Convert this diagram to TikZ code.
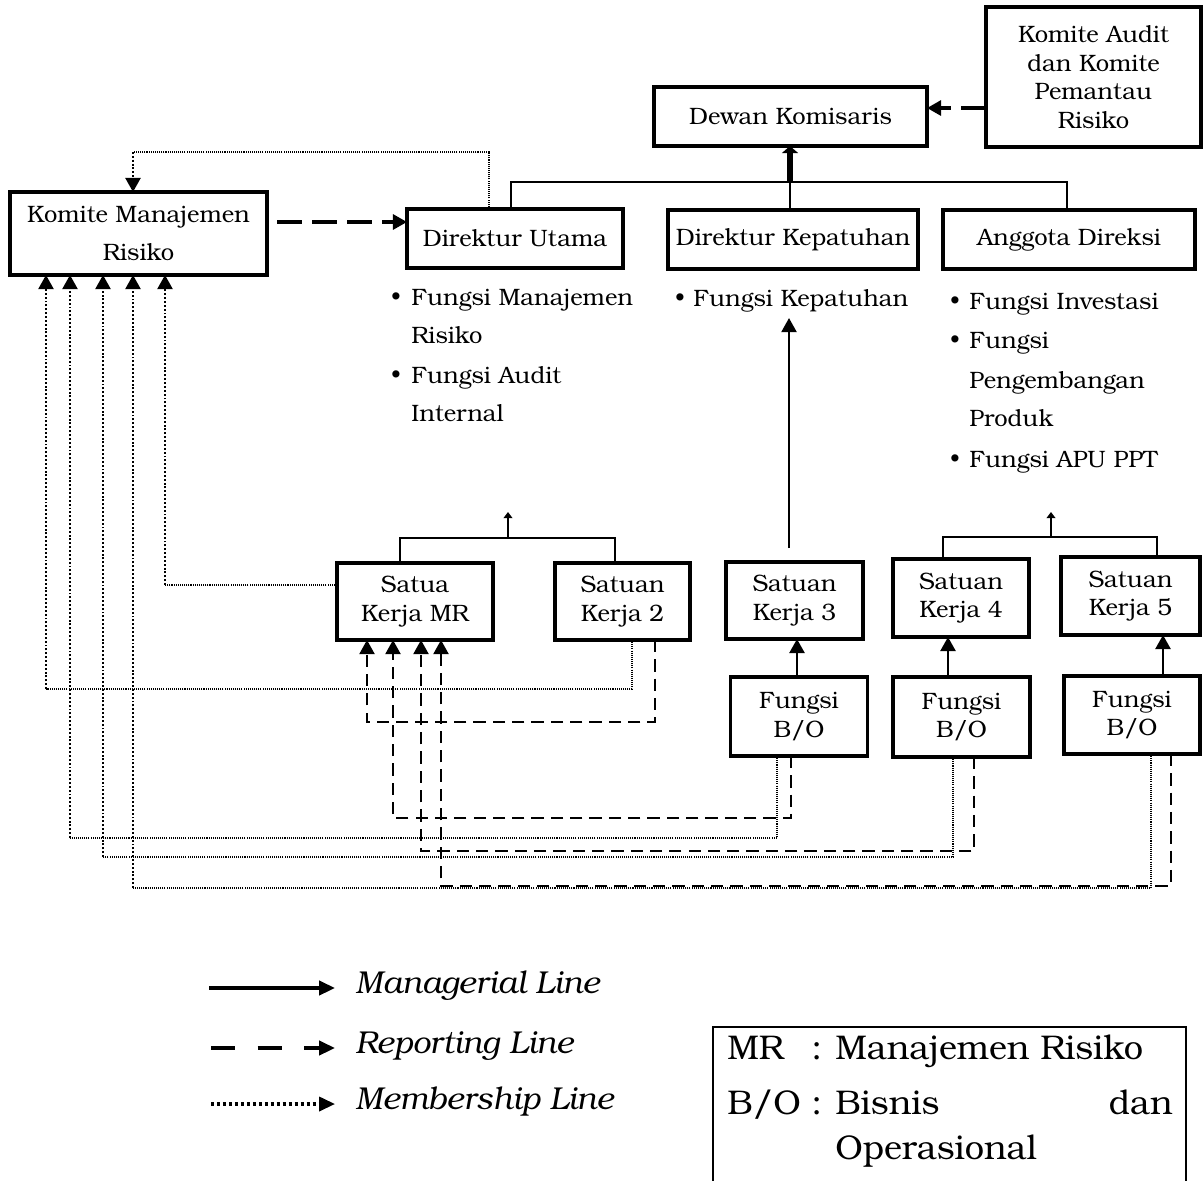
\documentclass[tikz,border=0pt]{standalone}
\usepackage{fontspec}
\setmainfont{TeX Gyre Bonum}
\usetikzlibrary{arrows.meta,calc}
\begin{document}
\begin{tikzpicture}[x=0.02cm,y=-0.02cm,
  font=\fontsize{13.5}{16.3}\selectfont,
  box/.style n args={2}{draw, line width=2.2pt, minimum width=#1*0.02cm, minimum height=#2*0.02cm, inner sep=0pt, outer sep=0pt, align=center},
  tri/.style={-{Triangle[width=8.5pt,length=8pt]}},
  mgr/.style={line width=1.5pt, tri},
  rep/.style={line width=1.3pt, dash pattern=on 7pt off 4pt},
  repthick/.style={line width=1.8pt, dash pattern=on 14pt off 6pt},
  memb/.style={line width=0.6pt, dash pattern=on 0.6pt off 0.6pt},
  membthick/.style={line width=1.4pt, dash pattern=on 1.1pt off 1.1pt},
  tree/.style={line width=0.8pt},
  smallup/.style={line width=1.6pt, -{Triangle[width=5pt,length=3.5pt]}},
  txt/.style={anchor=base west, inner sep=0pt},
  bul/.style={anchor=base, inner sep=0pt, font=\fontsize{12}{14}\selectfont},
  leg/.style={anchor=west, inner sep=0pt, font=\fontsize{18}{21}\selectfont\itshape},
  legb/.style={anchor=base west, inner sep=0pt, font=\fontsize{19.5}{23}\selectfont},
]
\useasboundingbox (0,0) rectangle (1203,1180);

% ---------- boxes ----------
\node[box={257}{83}] (KMR) at (138.5,233.5) {Komite Manajemen\\[5.7pt]Risiko};
\node[box={216}{59}] (DU) at (515,238.5) {\raisebox{-3pt}{Direktur Utama}};
\node[box={273}{59}] (DW) at (790.5,116.5) {Dewan Komisaris};
\node[box={215}{140}] (KA) at (1093.5,77) {Komite Audit\\dan Komite\\Pemantau\\Risiko};
\node[box={250}{59}] (DK) at (793,239.5) {\raisebox{-3pt}{Direktur Kepatuhan}};
\node[box={252}{59}] (AD) at (1069,239.5) {\raisebox{-2pt}{Anggota Direksi}};
\node[box={156}{77}] (SKMR) at (415,601.5) {Satua\\Kerja MR};
\node[box={135}{77}] (SK2) at (622.5,601.5) {Satuan\\Kerja 2};
\node[box={137}{77}] (SK3) at (794.5,600.5) {Satuan\\Kerja 3};
\node[box={136}{78}] (SK4) at (961,598) {Satuan\\Kerja 4};
\node[box={139}{78}] (SK5) at (1130.5,596) {Satuan\\Kerja 5};
\node[box={137}{79}] (BO3) at (799,716.5) {Fungsi\\B/O};
\node[box={137}{80}] (BO4) at (961.5,717) {Fungsi\\B/O};
\node[box={136}{78}] (BO5) at (1132,715) {Fungsi\\B/O};

% ---------- bullet lists ----------
\node[bul] (bu1) at (396,304) {\textbullet};
\node[txt] (tu1) at (411,305) {Fungsi Manajemen};
\node[txt] (tu2) at (411,343) {Risiko};
\node[bul] (bu2) at (396,382) {\textbullet};
\node[txt] (tu3) at (411,383) {Fungsi Audit};
\node[txt] (tu4) at (411,421) {Internal};

\node[bul] (bk1) at (680,305) {\textbullet};
\node[txt] (tk1) at (693,306) {Fungsi Kepatuhan};

\node[bul] (ba1) at (955,308) {\textbullet};
\node[txt] (ta1) at (969,309) {Fungsi Investasi};
\node[bul] (ba2) at (955,347) {\textbullet};
\node[txt] (ta2) at (969,348) {Fungsi};
\node[txt] (ta3) at (969,388) {Pengembangan};
\node[txt] (ta4) at (969,426) {Produk};
\node[bul] (ba3) at (955,466) {\textbullet};
\node[txt] (ta5) at (969,467) {Fungsi APU PPT};

% ---------- top tree ----------
\coordinate (T1) at (511,182);
\coordinate (T2) at (1067,182);
\coordinate (TC) at (790,182);
\draw[tree] (DU.north -| T1) -- (T1) -- (T2) -- (AD.north -| T2);
\draw[tree] (TC) -- (DK.north -| TC);
\draw[line width=3.6pt, -{Triangle[width=9pt,length=4pt]}] (TC) -- (DW.south -| TC);

% reporting to Direktur Utama and Dewan
\coordinate (r0) at (277,222);
\draw[repthick, tri] (r0) -- (r0 -| DU.west);
\coordinate (r1) at (986,108);
\draw[repthick, tri] (r1) -- (r1 -| DW.east);

% membership from Direktur Utama to KMR
\coordinate (m0a) at (489,152);
\coordinate (m0b) at (133,152);
\draw[memb] (DU.north -| m0a) -- (m0a) -- (m0b);
\draw[membthick, tri] (m0b) -- (KMR.north -| m0b);

% Satuan Kerja 3 to Fungsi Kepatuhan
\coordinate (k0) at (789,548);
\coordinate (k1) at (789,318);
\draw[line width=1.3pt, tri] (k0) -- (k1);

% ---------- lower trees ----------
\coordinate (t3) at (400,538);
\coordinate (t4) at (615,538);
\coordinate (t5) at (508,538);
\coordinate (t5u) at (508,512);
\draw[tree] (SKMR.north -| t3) -- (t3) -- (t4) -- (SK2.north -| t4);
\draw[smallup] (t5) -- (t5u);

\coordinate (t6) at (943,537);
\coordinate (t7) at (1157,537);
\coordinate (t8) at (1051,537);
\coordinate (t8u) at (1051,512);
\draw[tree] (SK4.north -| t6) -- (t6) -- (t7) -- (SK5.north -| t7);
\draw[smallup] (t8) -- (t8u);

% ---------- managerial B/O -> Satuan Kerja ----------
\coordinate (a3) at (797,683);
\coordinate (a4) at (948,683);
\coordinate (a5) at (1163,683);
\draw[mgr] (BO3.north -| a3) -- (SK3.south -| a3);
\draw[mgr] (BO4.north -| a4) -- (SK4.south -| a4);
\draw[mgr] (BO5.north -| a5) -- (SK5.south -| a5);

% ---------- membership lines to KMR ----------
\coordinate (s5) at (337,585);
\coordinate (c5) at (165,585);
\draw[memb] (s5) -- (c5);
\draw[membthick, tri] (c5) -- (KMR.south -| c5);

\coordinate (s1) at (632,689);
\coordinate (c1) at (46,689);
\draw[memb] (SK2.south -| s1) -- (s1) -- (c1);
\draw[membthick, tri] (c1) -- (KMR.south -| c1);

\coordinate (s2) at (777,838);
\coordinate (c2) at (70,838);
\draw[memb] (BO3.south -| s2) -- (s2) -- (c2);
\draw[membthick, tri] (c2) -- (KMR.south -| c2);

\coordinate (s3) at (953,857);
\coordinate (c3) at (103,857);
\draw[memb] (BO4.south -| s3) -- (s3) -- (c3);
\draw[membthick, tri] (c3) -- (KMR.south -| c3);

\coordinate (s4) at (1151,888);
\coordinate (c4) at (133,888);
\draw[memb] (BO5.south -| s4) -- (s4) -- (c4);
\draw[membthick, tri] (c4) -- (KMR.south -| c4);

% ---------- reporting lines to Satua Kerja MR ----------
\coordinate (q1) at (655,722);
\coordinate (d1) at (367,722);
\draw[rep, tri] (SK2.south -| q1) -- (q1) -- (d1) -- (SKMR.south -| d1);

\coordinate (q2) at (791,818);
\coordinate (d2) at (393,818);
\draw[rep, tri] (BO3.south -| q2) -- (q2) -- (d2) -- (SKMR.south -| d2);

\coordinate (q3) at (974,851);
\coordinate (d3) at (421,851);
\draw[rep, tri] (BO4.south -| q3) -- (q3) -- (d3) -- (SKMR.south -| d3);

\coordinate (q4) at (1171,886);
\coordinate (d4) at (441,886);
\draw[rep, tri] (BO5.south -| q4) -- (q4) -- (d4) -- (SKMR.south -| d4);

% ---------- legend ----------
\coordinate (L1a) at (209,988);
\coordinate (L1b) at (335,988);
\draw[line width=2pt, -{Triangle[width=8pt,length=9pt]}] (L1a) -- (L1b);
\node[leg] (L1t) at (355,986) {Managerial Line};

\coordinate (L2a) at (211,1048);
\coordinate (L2b) at (335,1048);
\draw[line width=2pt, dash pattern=on 13.6pt off 13pt, -{Triangle[width=8pt,length=9pt]}] (L2a) -- (L2b);
\node[leg] (L2t) at (355,1046) {Reporting Line};

\coordinate (L3a) at (211,1104);
\coordinate (L3b) at (335,1104);
\draw[line width=1.8pt, dash pattern=on 1.7pt off 1.7pt, -{Triangle[width=8pt,length=9pt]}] (L3a) -- (L3b);
\node[leg] (L3t) at (355,1102) {Membership Line};

\draw[line width=1.2pt] (713,1190) -- (713,1027) -- (1186,1027) -- (1186,1190);
\node[legb] (g1) at (727,1059) {MR};
\node[legb] (g2) at (811,1059) {:};
\node[legb] (g3) at (835,1059) {Manajemen Risiko};
\node[legb] (g4) at (727,1114) {B/O};
\node[legb] (g5) at (811,1114) {:};
\node[legb] (g6) at (835,1114) {Bisnis};
\node[legb, anchor=base east] (g7) at (1173,1114) {dan};
\node[legb] (g8) at (835,1159) {Operasional};
\end{tikzpicture}
\end{document}
